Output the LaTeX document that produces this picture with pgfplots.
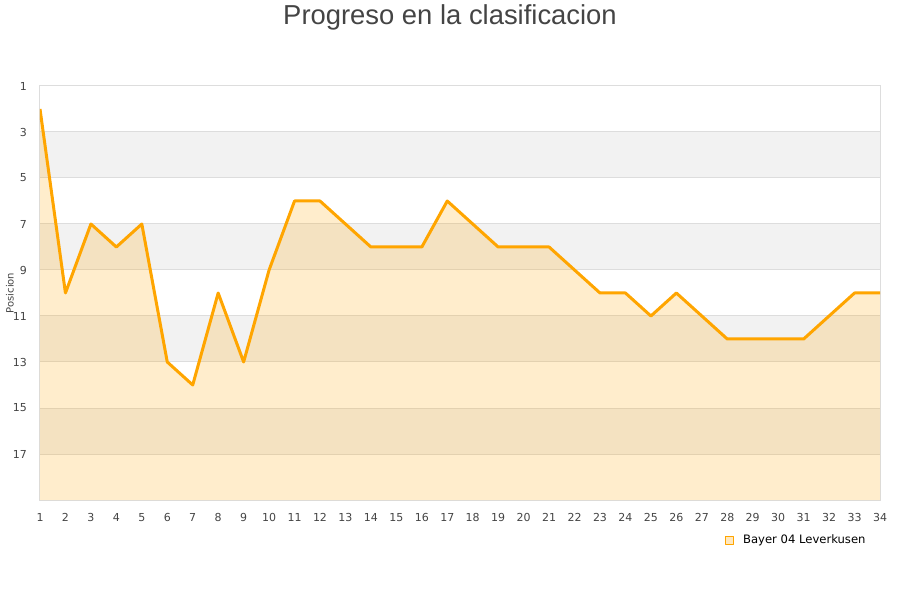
\documentclass[border=0pt]{standalone}
\usepackage{pgfplots}
\pgfplotsset{compat=1.18}
\usepackage{pgfplotstable}
\usepgfplotslibrary{fillbetween}
\usepackage{fontspec}
\setmainfont{DejaVu Sans}
\newfontfamily\titlefont{Liberation Sans}
\definecolor{linea}{HTML}{FFA500}
\definecolor{banda}{HTML}{F2F2F2}
\definecolor{rejilla}{HTML}{DDDDDD}
\definecolor{texto}{HTML}{444444}

\pgfplotstableread{
jornada pos
1 2
2 10
3 7
4 8
5 7
6 13
7 14
8 10
9 13
10 9
11 6
12 6
13 7
14 8
15 8
16 8
17 6
18 7
19 8
20 8
21 8
22 9
23 10
24 10
25 11
26 10
27 11
28 12
29 12
30 12
31 12
32 11
33 10
34 10
}\posiciones

\begin{document}
\begin{tikzpicture}
\begin{axis}[
    set layers,
    scale only axis,
    width=420pt, height=207pt,
    xmin=1, xmax=34,
    ymin=1, ymax=19,
    y dir=reverse,
    xtick={1,...,34},
    ytick={1,3,...,17},
    ymajorgrids=true,
    grid style={rejilla, line width=0.5pt},
    axis line style={rejilla, line width=0.5pt},
    major tick length=0pt,
    /pgf/number format/assume math mode=true,
    tick label style={font=\fontsize{5.5}{6}\selectfont, text=texto},
    xticklabel style={yshift=-3pt},
    yticklabel style={xshift=-3pt},
    legend style={draw=none, fill=none, font=\fontsize{5.8}{6}\selectfont,
        at={(rel axis cs:0.988,-0.073)}, anchor=north east, inner sep=0pt},
    legend cell align=left,
    legend image code/.code={\draw[linea, fill=linea!25, line width=0.4pt] (0pt,-2pt) rectangle (4pt,2pt);},
]
\coordinate (ll) at (rel axis cs:0,0);
\addplot[fill=banda, draw=none, on layer=axis background, forget plot] coordinates {(1,3) (34,3) (34,5) (1,5) (1,3)};
\addplot[fill=banda, draw=none, on layer=axis background, forget plot] coordinates {(1,7) (34,7) (34,9) (1,9) (1,7)};
\addplot[fill=banda, draw=none, on layer=axis background, forget plot] coordinates {(1,11) (34,11) (34,13) (1,13) (1,11)};
\addplot[fill=banda, draw=none, on layer=axis background, forget plot] coordinates {(1,15) (34,15) (34,17) (1,17) (1,15)};
\addplot[name path=serie, draw=none, forget plot] table[x=jornada, y=pos] {\posiciones};
\path[name path=fondo] (axis cs:1,19) -- (axis cs:34,19);
\addplot[linea, fill opacity=0.2, draw=none, forget plot] fill between[of=serie and fondo];
\addplot[linea, line width=1.5pt, line join=round, mark=none] table[x=jornada, y=pos] {\posiciones};
\addlegendentry{\hspace{2.5pt}Bayer 04 Leverkusen}
\end{axis}
\node[rotate=90, font=\fontsize{5}{6}\selectfont, text=texto] at ([shift={(-15pt,103.5pt)}]ll) {Posicion};
\node[font=\titlefont\fontsize{13.7}{15}\selectfont, text=texto] at ([shift={(205pt,241.5pt)}]ll) {Progreso en la clasificacion};
\pgfresetboundingbox
\useasboundingbox ([shift={(-20pt,-50pt)}]ll) rectangle ([shift={(430pt,250pt)}]ll);
\end{tikzpicture}
\end{document}
